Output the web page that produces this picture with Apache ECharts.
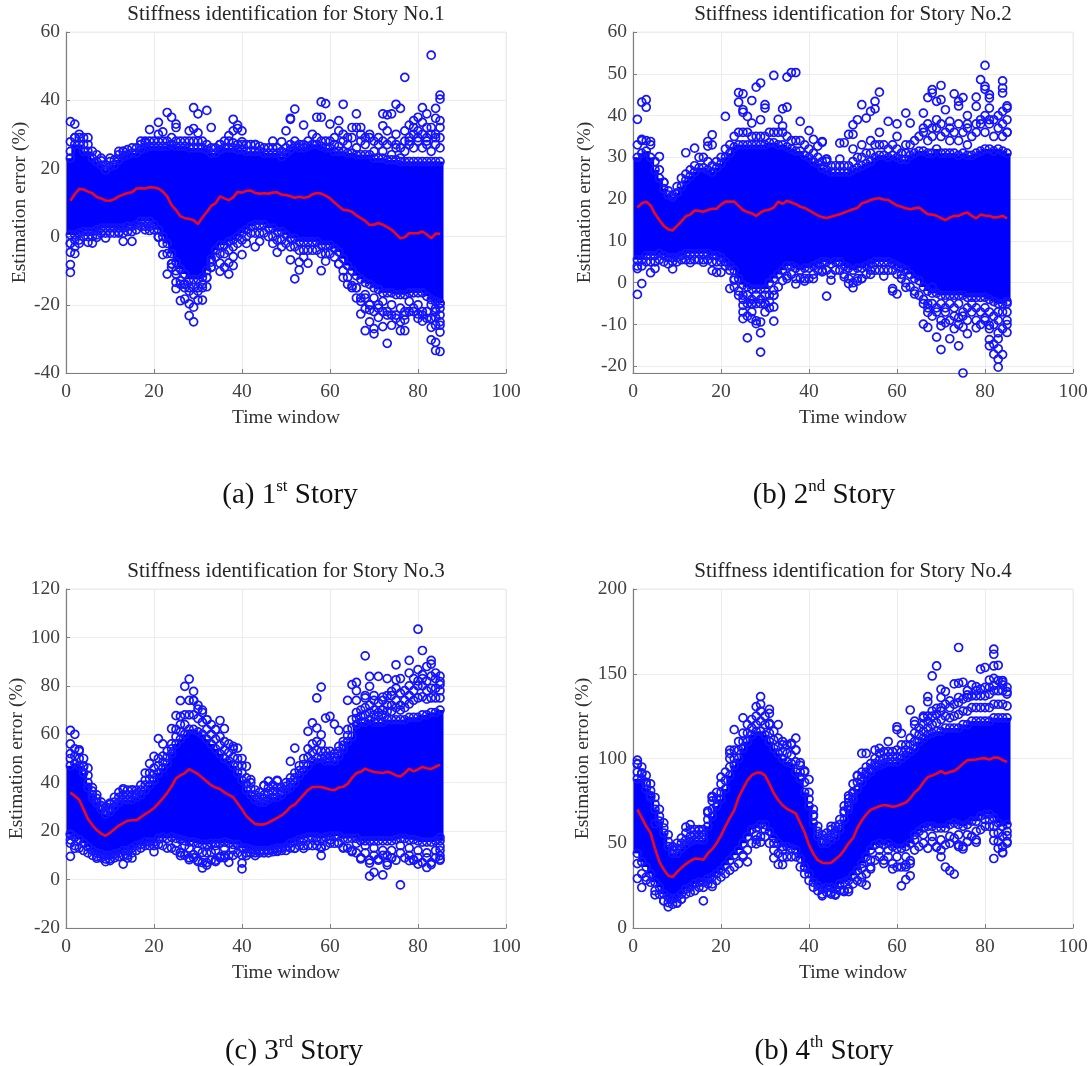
<!DOCTYPE html>
<html><head><meta charset="utf-8">
<script src="https://cdn.jsdelivr.net/npm/echarts@6/dist/echarts.min.js"></script>
<style>html,body{margin:0;padding:0;background:#fff}#c{width:1091px;height:1066px}</style>
</head><body><div id="c"></div>
<script>
const titles=['Stiffness identification for Story No.1','Stiffness identification for Story No.2','Stiffness identification for Story No.3','Stiffness identification for Story No.4'];
const captions=[['(a) 1','st'],['(b) 2','nd'],['(c) 3','rd'],['(b) 4','th']];
const yTicks2=[-20,-10,0,10,20,30,40,50,60];

const p1Mean=[10.5,12.5,14,13.8,13.2,12.7,11.6,11.2,10.6,10.5,11,11.8,12.3,12.8,13,14.1,14.2,14.1,14.5,14.4,14.1,13.2,11.8,9.2,7.8,6,5.4,5.2,4.8,3.7,5.6,7.2,9,9.8,11.8,11.2,10.7,11.5,13.1,12.9,13.4,13.5,12.8,12.6,12.7,12.6,12.9,13,12.3,12.2,11.8,11.4,11.7,11.4,11.6,12.4,12.8,12.6,12,11.2,10,8.9,7.9,7.7,7.3,6.2,5.4,4.6,3.4,3.5,4,3.5,2.8,2,0.8,-0.5,-0.2,1,1,1,1.5,0.6,-0.5,0.9,0.8];
const p1Hi=[25,29,29,27,27,25,24,23,21,22,22.5,24,25,25.5,26,26,27,27.5,28,28,28,28,28,29,28,28,28,28,28,28,28,27,26,26,27,28,28,27.5,27,27,27,27,27,26.5,26,26,26,26,25,26,27,28,27,27,28,30,29,28,28,28,27,26.5,28,27,29,26,28,27,29,25,27,25,27,24,26,23,25,27,26,28,26,27,25,27,26];
const p1MidHi=[23,27,27,25,25,23,22,21,19.5,20.5,21,22.5,23.5,24,24.5,24.5,25.5,26,26.5,26.5,26.5,26.5,26.5,27,26.5,26.5,26.5,26,26,26,26,25.5,24.5,24.5,25.5,26,26,26,25.5,25.5,25,25,25,25,24.5,24.5,24.5,24.5,23.5,24.5,25.5,26.5,26,26,26.5,27,27,26.5,26,26,25,25,25,24.5,24.5,24,24,24,24,23,23,23,22.5,22.5,22.5,22,22,22,22,22,22,22,22,22,22];
const p1MidLo=[0.5,0.5,1,1.5,1.5,1.5,2,2.5,2.5,2.5,2.5,2.5,2.5,3,3,3.5,4.5,4.5,4.5,3.5,2,0,-2,-5,-7.5,-9.5,-11,-12.5,-12.5,-12.5,-12,-10,-6.5,-4,-2.5,-2.5,-1.5,-1,0,1,2,3,3.5,3.5,3.5,2.5,2.5,1.5,1.5,0.5,-0.5,-0.5,-1.5,-1.5,-1.5,-1.5,-1.5,-2.5,-2.5,-2.5,-3.5,-4.5,-6.5,-8.5,-10,-11.5,-12.5,-13.5,-14,-15,-15.5,-16.5,-16.5,-16.5,-17,-17,-17,-16.5,-16.5,-16.5,-16.5,-17.5,-18.5,-19,-19.5];
const p1Lo=[-2,-1,-1,0,0,0,0.5,1,1,1,1,1,1,1.5,1.5,2,3,3,3,2,0,-2,-5,-8,-11,-13,-14,-15,-15,-15,-14,-12,-9,-6,-5,-5,-4,-3,-2,-1,0,1,1,1,1,0,0,-1,-1,-2,-3,-3,-4,-4,-4,-4,-4,-5,-5,-5,-6,-8,-10,-12,-15,-15,-18,-17,-20,-18,-21,-19,-22,-20,-23,-21,-23,-19,-22,-20,-23,-22,-24,-22,-25];
const p1Out=[[1,33.7],[2,33],[1,27.8],[2,29],[3,30],[4,29],[5,29],[8,22.2],[10,23],[12,25],[13,25],[17,28],[18,28],[19,31.4],[21,33.5],[22,30.7],[21,30],[23,36.4],[24,35],[25,33],[25,32],[28,31],[29,37.8],[29,31.7],[30,36],[30,30.4],[32,37],[33,32],[35,27],[37,29.6],[38,34.4],[38,31],[39,32.7],[39,31.7],[40,31],[40,27.8],[43,27],[47,28],[49,27.8],[50,31],[51,34.4],[52,37.4],[51,34.7],[54,32.7],[57,35],[58,35],[58,39.5],[59,39],[60,33],[62,34],[62,31],[63,38.8],[65,32],[66,36],[66,32],[67,32],[72,36],[72,32.5],[73,35.7],[74,36],[75,38.8],[76,37.6],[77,46.7],[75,27],[78,32.7],[79,34],[80,35],[81,37.8],[82,36],[81,33.5],[83,53.2],[84,37.6],[84,34.7],[83,32],[85,41.5],[85,40.3],[84,30],[85,29],[77,28],[78,29],[79,30],[81,30],[82,28],
[1,-10.5],[1,-8.2],[1,-4.6],[2,-5],[1,-2],[2,-3],[3,-2],[5,-1.7],[6,-1.9],[7,-0.2],[9,-0.4],[13,-1.4],[15,-1.4],[12,1.3],[18,2],[19,1.8],[21,-0.2],[22,-5.3],[23,-11],[24,-8],[25,-13.4],[25,-15.3],[26,-18.8],[27,-18.3],[27,-13.9],[28,-23.2],[28,-19.7],[29,-20.7],[29,-25],[30,-18.6],[31,-18.6],[32,-14.7],[33,-7.5],[35,-10.2],[35,-7.8],[36,-9],[37,-11],[37,-7.7],[38,-8.5],[38,-5.9],[40,-5.3],[41,-2],[43,-3],[44,-1.4],[47,-2],[48,-4.6],[49,-3],[51,-6.8],[52,-12.4],[53,-9.8],[53,-7.5],[54,-6],[55,-7.8],[58,-10],[59,-7.2],[62,-8],[63,-12],[65,-14.4],[66,-18],[67,-22.7],[68,-27.6],[68,-21.2],[69,-25],[69,-21.5],[70,-28.5],[70,-27],[71,-23.7],[72,-26.4],[73,-31.3],[74,-26],[76,-27.6],[77,-27.6],[77,-24.4],[80,-22.7],[81,-24.8],[83,-30.3],[83,-26.6],[84,-33.4],[84,-31],[84,-23.7],[85,-33.7],[85,-28],[85,-26],[85,-19.7],
[64,-14],[66,-15],[67,-19],[68,-18],[69,-20],[70,-22],[71,-20],[72,-22],[73,-23],[74,-23],[75,-24],[76,-25],[77,-22],[78,-22],[79,-21],[80,-24],[81,-22],[82,-24],[83,-24],[84,-26],[85,-23],[85,-21],[84,-21],[83,-20],[26,-14],[27,-15],[28,-16],[29,-17],[30,-16],[31,-15],[32,-12],[25,-10],[24,-9],[33,-9],[61,29],[64,29],[68,29],[70,28],[72,28],[74,28],[76,26],[78,28],[80,29],[82,29],[84,29],[63,30],[67,30],[69,30],[71,29],[73,31],[75,30],[77,31],[79,32],[80,31],[82,32],[83,30],[85,32],[85,34]];

const p2Mean=[18,19,19.4,18.5,16.5,15,13.6,12.8,12.5,13.6,14.7,15.9,16.3,17.3,17.2,17,17.4,17.7,17.7,18.7,19.4,19.4,19.4,18.4,17.4,16.9,16.6,16,16.8,17.3,17.5,18,19.4,18.9,19.6,19.2,18.8,18.2,17.9,17.3,16.7,16.1,15.7,15.5,15.8,16.1,16.4,16.8,17.2,17.6,17.9,19,19.3,19.8,20.1,20.2,19.9,19.8,19.1,18.5,18.2,17.8,17.6,17.8,18,17.2,16.4,16.3,16,15.5,15,15.6,16,16,16.5,16.8,16,15.4,16.3,16.1,16,15.6,15.7,16,15.4];
const p2Hi=[33,34,34,33,29,27,24,22,21,23,25,26,27,28,30,30,29,28,29,30,32,33,35,36,36,36,35,35,35,35,36,36,36,36,35,34,34,34,33,32,31,30,29,29,28,28,28,28,28,29,30,30,31,31,33,33,33,32,33,32,31,31,33,34,35,36,34,35,37,35,36,34,36,34,36,33,35,36,38,36,38,35,37,35,36];
const p2MidHi=[30,31,31.5,30,27,25,22.5,21,20.5,21.5,23,24.5,25.5,26.5,27.5,27.5,27,26.5,27.5,28.5,30,31,32.5,33,33,33,33,33,33,33,33.5,33.5,33,33,32.5,32,31.5,31.5,30.5,30,29,28.5,27.5,27,26.5,26.5,26.5,26.5,26.5,27,27.5,28,28.5,29,30,30.5,30.5,30,30.5,30,29.5,29.5,30.5,31,31.5,31.5,31,31,32,31,31,31,31,30.5,31,30.5,30.5,31,31.5,32,32,31.5,32,31.5,31];
const p2MidLo=[5.5,5.5,6.5,6.5,6.5,7,6.5,6,6,6,6.5,7,7,7,7,7,7,6.5,6.5,6,5,4,3,1,-0.5,-1,-1.5,-1.5,-1.5,-1.5,0,1,2,3,4,4,3.5,3,3.5,3.5,4,4.5,5,5,4.5,5,5,4,3.5,3,3.5,3.5,4,4.5,5,5,5,5,4.5,4,3.5,3,2,1,0.5,-1,-2,-2.5,-2.5,-3,-3,-3,-3,-3,-3,-3.5,-3.5,-3.5,-3.5,-3.5,-4,-4.5,-5,-5,-4.5];
const p2Lo=[4,4,5,5,5,5.5,5,4.5,5,5,5.5,5.5,5.5,5.5,5.5,5.5,5.5,5,5,5,4,3,1,-2,-4,-5,-5,-5,-5,-5,-4.5,-3,-1,0.5,1,2,1,1,1,1,2,3,3,3,2,3,3,2,1,0,1,1,2,3,3,3,3,3,3,2,1,0,-1,-2,-3,-5,-6,-8,-7,-9,-7,-9,-8,-10,-8,-9,-7,-9,-10,-9,-11,-10,-12,-11,-10];
const p2Out=[[1,39.1],[2,43.2],[3,43.8],[3,42],[4,33.8],[2,34.3],[6,30.2],[7,24],[12,31.1],[14,32.2],[17,33.8],[17,32.7],[18,35.4],[18,33],[21,39.8],[24,45.5],[24,43.2],[25,45.2],[25,41.4],[25,40.8],[26,39.8],[27,43.6],[27,38.2],[28,46.8],[29,47.8],[29,39],[30,42.6],[30,41.8],[32,49.6],[33,39.1],[34,41.6],[35,49.2],[35,42],[34,37.5],[36,50.3],[37,50.3],[38,38.6],[40,36.4],[41,34.3],[42,32.7],[43,33.8],[44,29.5],[47,33.4],[43,33.6],[44,29.6],[47,29.6],[48,33.5],[49,35.5],[50,35.5],[50,37.8],[51,39],[52,42.6],[53,39.4],[54,41],[55,43.4],[55,41.6],[56,45.6],[58,38.6],[60,38],[62,40.6],[63,38.2],[66,40.6],[67,44.3],[68,46.2],[68,45.4],[69,43.4],[70,47.2],[70,43.8],[71,41.4],[73,45.2],[74,43.4],[75,44.3],[74,42.3],[76,40],[78,44.4],[79,48.6],[80,52],[80,47],[80,46.3],[81,45],[81,44.2],[84,48.3],[84,46.6],[84,45.4],[85,42.3],[85,41.8],[84,41],[85,36],[78,42.2],[81,41.8],[72,38.6],[76,38],
[1,-2.8],[2,-0.2],[1,3.4],[4,2.4],[5,3.4],[9,3.3],[13,4.8],[16,4.9],[18,2.9],[19,2.5],[20,2.5],[22,-1.4],[23,0.6],[25,-5.4],[25,-8.6],[26,-13.2],[26,-8],[27,-5.1],[27,-8.6],[28,-9.8],[28,-9.1],[29,-16.6],[29,-12],[29,-9.4],[30,-5.1],[32,-9.2],[32,-5.8],[32,-1.8],[35,1.6],[37,-0.3],[39,0.4],[41,1],[43,2.6],[44,-3.2],[45,0.6],[48,1.4],[49,-0.2],[50,-1.2],[51,0.4],[52,1],[54,2],[57,1.6],[59,-1.4],[59,-2],[60,-2.7],[61,2],[62,-1.1],[64,-2.7],[66,-9.9],[67,-10.7],[67,-7.1],[68,-1.1],[69,-13],[70,-16],[70,-10.3],[71,-9.6],[72,-13.4],[73,-11],[74,-15.1],[74,-8.4],[75,-21.6],[75,-10.6],[76,-12.2],[78,-10.8],[80,-8.4],[81,-13.6],[81,-15.1],[82,-17.1],[82,-14.7],[83,-20.2],[83,-18.3],[83,-15.8],[84,-17.2],[83,-13.4],[85,-11.9],[85,-9],[81,-10.2],
[66,-4],[67,-5],[68,-5],[69,-6],[70,-5],[71,-6],[72,-5],[73,-6],[74,-5],[75,-7],[76,-6],[77,-5],[78,-6],[79,-7],[80,-6],[81,-7],[82,-8],[83,-9],[84,-7],[85,-7],[83,-7],[85,-5],[24,-3],[25,-3],[26,-3],[27,-4],[28,-3],[29,-4],[30,-3],[31,-3],[32,-3],[23,-1],[31,-6],[30,-7],[27,-7],[25,-7],[62,33],[66,37],[68,37],[70,38],[72,37],[74,38],[76,37],[78,38],[79,39],[80,40],[81,39],[82,39],[83,40],[84,38],[85,39],[67,38],[69,39],[60,35],[56,36],[54,34],[52,33],[50,32]];

const p3Mean=[36,34.5,33,29,25,22.5,20.4,19,18.1,19.3,20.8,22.3,23.3,24.3,24.5,24.5,25.8,27,28.2,29.5,31.5,33.5,35.8,38.5,41.8,43,44,45.6,44.6,43.6,42,40.5,39,38,37.4,36,35,34,31.5,29,26.2,24.5,23,22.7,22.8,23.5,24.5,25.5,26.5,28,30,31,33,35,37,38.2,38.2,38.2,37.7,37.2,36.9,38,38.3,39.5,42,44,44.5,45.8,45,44.4,44.2,44,44.5,44,43,42.6,44,45.8,44.7,45.5,46.5,46,45.7,46.6,47.5];
const p3Hi=[52,54,53,50,46,38,35,32,30,31,34,36,37,37,37,37,39,41,44,46,50,51,53,56,62,64,68,74,74,72,70,66,64,62,59,57,56,54,50,47,42,40,37,36,35,38,39,38,38,40,42,44,47,50,54,56,57,56,53,53,52,55,57,62,66,69,70,71,72,70,69,70,72,72,74,72,74,76,78,80,80,78,79,79,78];
const p3MidHi=[50,51,50,47,43,36.5,33.5,30.5,28.5,29.5,32,34,35,35,35,35.5,37,39,41.5,43.5,47,48.5,50.5,54,59,61,64,68,68,66.5,65,62,60,58,55.5,53.5,52.5,50.5,47,44,39.5,37.5,35,34,33.5,35.5,36.5,36,36.5,38.5,40,42,45,47.5,50.5,52.5,53.5,53,51,51,50.5,53,55.5,59.5,62.5,66.5,67.5,68,69,68,67.5,68,69.5,69.5,71,70,71,72.5,74,75,75.5,74.5,75,75,75];
const p3CoreHi=[47,48,47,44,40,35,32,29,27,28,30,32,33,33,33,34,35,37,39,41,44,46,48,52,56,58,60,62,62,61,60,58,56,54,52,50,49,47,44,41,37,35,33,32,32,33,34,34,35,37,38,40,43,45,47,49,50,50,49,49,49,51,54,57,59,64,65,65,66,65,65,65,66,66,66,66,66,67,67,67,68,68,69,69,70];
const p3MidLo=[18.5,17.5,16.5,15,13.5,12,11,10.5,10,10,10.5,11,12,12,13,14,14.5,15.5,15.5,15.5,17,17.5,17,17.5,17,16.5,16,15.5,15.5,15,14.5,14.5,15,15,15,15.5,15,14.5,14.5,13,13,12.5,12,12,12,12,12.5,13,13,13.5,15,15.5,16.5,17,17.5,17.5,17.5,17,17.5,18,18,18,17,17,17,17,16,16,16,16,16,16,16,16,16.5,17,17,16.5,16.5,16,15.5,15.5,15.5,16,16];
const p3Lo=[15,14,13,12,11,10,9.5,9,8.5,8.5,9,9.5,10,10,11,12,13,14,14,14,14.5,14,13,13,12,11,10,9,9,8,7,7,8,8,9,10,10,10,11,10,11,11,11,11,11,11,11.5,12,12,12,13,13,14,14,14,14,14,13,14,15,15,15,13,13,12,11,9,11,8,10,8,10,7,9,8,11,9,10,8,9,7,9,7,9,8];
const p3Out=[[1,61.6],[2,60],[1,56],[3,53.6],[4,46.5],[5,38],[6,33.7],[7,31.6],[10,31.6],[13,37.5],[15,37],[18,44],[19,47.9],[20,50.9],[21,58.2],[22,56],[24,62.3],[25,67.7],[26,67.4],[26,73.9],[27,79.8],[28,82.8],[29,77.7],[29,73.9],[30,70.4],[31,69],[32,66],[34,61.9],[35,65.7],[36,62.3],[38,55],[39,54.3],[40,50],[41,46.8],[42,41.3],[45,38.8],[46,40.6],[48,40.6],[45,38.9],[46,40.6],[48,41],[51,48.8],[52,54.3],[55,61.2],[56,64.7],[57,75],[58,79.5],[57,62.6],[58,59.8],[59,66.7],[60,67.4],[61,64.2],[62,61.6],[64,74],[65,80.5],[66,81.4],[66,78],[68,92.4],[68,76],[69,83.9],[69,79.8],[71,83.9],[70,74],[73,83],[75,88.7],[75,82.5],[76,83],[74,77.7],[78,90.5],[78,85.3],[80,103.4],[81,94.6],[80,86.7],[82,88],[83,90.5],[83,89],[84,85.3],[85,81.8],[85,80.5],[81,84.6],[72,75.4],
[1,9.6],[1,16.4],[1,18.8],[2,12.9],[7,8.8],[9,7.4],[10,7.8],[13,6.4],[14,8.9],[15,8.9],[20,11.5],[26,11.2],[26,9.9],[28,8.2],[29,10.3],[30,7.4],[31,4.8],[32,6],[31,11.2],[33,11.2],[34,7.4],[34,14],[35,9.5],[36,9],[37,7.1],[38,12.3],[40,4.4],[40,6.8],[41,9.9],[43,9.9],[48,11.6],[52,12.9],[54,12.9],[57,16],[58,9.9],[58,13.6],[60,16.3],[63,13.3],[65,11.5],[67,8.5],[69,6.8],[69,1.4],[70,3],[71,8.5],[72,1.9],[73,6],[74,8.9],[76,-2.2],[78,7.8],[79,8.2],[80,6.4],[82,5],[83,6.2],[85,8.5],[85,9.9],[85,13.7],[85,17.4],
[66,74],[68,75],[70,76],[72,74],[74,76],[76,77],[78,80],[80,82],[82,82],[84,83],[85,84],[83,84],[81,83],[79,83],[77,78],[75,79],[73,76],[71,73],[66,15],[68,14],[70,13],[72,12],[74,12],[76,14],[78,13],[80,12],[82,11],[84,12],[85,12],[73,10],[28,13],[30,12],[32,11],[34,12],[36,13],[25,15],[27,14]];

const p4Mean=[70,65,60,56,47,39,34.5,31,30,33,35.5,37.7,39.5,41,40.8,40.3,44,46.5,50,54.5,60,65,69.4,77,82.2,87,90.2,91.5,91.7,90,85,79.5,75.5,72.4,70.3,69,67.6,62,56.5,49,43.7,40,38.5,38.3,38.5,40.5,42.7,46,50,53,59,63.5,67,69.7,70.8,71.8,72.6,72.2,71.5,72,73,74,76.5,80,82.2,86,89,90,91.1,92.5,91.1,92,92.7,94.5,97,99,99.2,99.4,100,100.2,99.4,100.5,100.5,99,98];
const p4Hi=[97,95,90,85,77,70,62,55,48,50,53,56,58,58,58,58,68,75,80,85,92,100,105,110,115,120,123,125,128,125,120,116,112,108,108,108,105,96,92,80,70,60,55,56,58,60,64,72,78,85,90,92,95,97,100,103,104,104,104,105,108,108,112,115,118,120,122,125,126,130,132,130,132,133,135,136,137,137,137,137,138,140,140,140,138];
const p4MidHi=[92,91,86,81,73,66,59,51,46,47,50,52,54,55,55,55,64,70,76,80,87,95,100,105,110,115,118,120,122,120,115,111,107,104,103,102,98,92,86,76,66,57,52,53,55,57,61,68,74,80,86,89,92,94,97,99,100,101,101,101,104,105,108,110,114,116,118,120,121,123,125,124,125,126,128,128,130,130,130,130,130,132,132,132,131];
const p4CoreHi=[88,88,82,78,70,63,56,48,44,44,47,49,51,52,52,52,60,66,72,76,82,90,96,100,106,110,114,116,116,114,110,106,103,100,98,97,92,88,80,72,62,54,50,50,52,54,58,64,70,76,82,86,90,92,95,96,97,98,98,98,100,102,104,106,110,112,114,115,116,116,118,118,118,118,120,120,122,122,122,122,122,124,124,124,124];
const p4MidLo=[44,39,36,32,27,24,20,18,17,18,20,23,24,26,27,27,29,30,32,34,37,40,43,46,50,54,58,59,61,61,57,53,50,48,48,47,46,41,36,32,27,25,23,24,24,23,26,27,28,31,34,38,42,46,49,50,49,50,48,47,47,48,50,55,57,59,60,60,59,59,59,61,62,61,60,61,63,63,66,67,67,65,62,60,61];
const p4Lo=[38,32,30,27,22,20,16,15,14,15,17,20,21,22,24,24,26,26,28,30,32,34,36,38,42,46,50,52,54,54,50,46,44,42,42,42,42,36,32,28,24,22,20,21,21,20,22,22,23,26,28,30,32,36,40,42,40,42,38,36,36,36,38,46,48,50,47,51,48,46,49,50,53,49,48,51,54,52,58,60,60,56,51,48,50];
const p4Out=[[1,99],[1,96.6],[2,91.5],[3,84.8],[4,77],[18,77],[20,89],[22,105],[22,103],[23,117],[25,124],[28,130.6],[29,136.5],[29,132],[31,129],[31,126.6],[31,120.7],[33,120],[34,110],[36,109],[37,112],[37,105],[38,97.6],[39,92.7],[40,87.6],[4,77.7],[5,61.5],[12,59.5],[13,61],[15,57.5],[17,69],[18,77.7],[41,66.8],[45,60],[48,69],[49,72],[50,80],[50,77],[49,76.3],[50,79.3],[51,89.7],[52,103],[53,103],[55,105],[56,106],[58,110],[60,118.7],[60,117],[61,114.8],[63,128.6],[64,122],[66,125],[67,125],[67,136.5],[67,133.5],[68,148.7],[69,154.6],[69,129.6],[70,136],[70,140.8],[71,139.5],[73,144],[74,144.4],[74,165.5],[75,145],[76,137.5],[77,143.4],[78,142.4],[79,152.7],[80,153.7],[81,146.3],[82,164.5],[82,161.5],[82,154.6],[82,147.3],[83,155],[84,146],[84,143.4],[85,139.4],
[1,29.2],[2,23.9],[3,28.3],[5,19.6],[7,16],[8,12.5],[10,14.6],[11,17],[16,16],[18,24.5],[26,39],[25,43],[32,41.3],[33,37.5],[34,37.4],[29,50.6],[28,49.6],[39,35.8],[43,19],[45,20],[46,19.4],[48,21.5],[49,21.5],[52,26.9],[53,25.3],[54,34.8],[57,38],[59,34.8],[61,24.9],[62,28.5],[63,30.8],[63,39.7],[62,37.4],[69,47.6],[70,42],[71,36],[72,33.8],[73,31.8],[74,48],[75,46.6],[76,51],[78,50.6],[82,41],[82,51.6],[84,44.3],[84,44.7],[83,47],[85,51],[85,54.5],
[64,120],[66,124],[68,128],[70,128],[72,134],[74,136],[76,140],[78,140],[80,142],[82,143],[84,145],[85,142],[83,146],[81,142],[79,141],[64,52],[66,55],[68,54],[70,52],[72,54],[74,55],[76,55],[78,57],[80,64],[82,60],[84,54],[85,57],[83,56],[81,64],[52,35],[54,40],[56,46],[58,46],[60,42],[62,42],[28,55],[30,58],[32,50],[34,46]];

const SERIF='"Liberation Serif","Times New Roman",serif';
const panels=[
 {left:66,top:32,h:341,min:-40,max:60,interval:20,mean:p1Mean,band:[p1MidLo,p1MidHi],rows:[p1Hi,p1MidHi,p1MidLo,p1Lo],out:p1Out,yGap:36},
 {left:633,top:32,h:341,min:-21.6,max:60,custom:yTicks2,mean:p2Mean,band:[p2MidLo,p2MidHi],rows:[p2Hi,p2MidHi,p2MidLo,p2Lo],out:p2Out,yGap:38},
 {left:66,top:589,h:339,min:-20,max:120,interval:20,mean:p3Mean,band:[p3MidLo,p3CoreHi],rows:[p3Hi,p3MidHi,p3CoreHi,p3MidLo,p3Lo],out:p3Out,yGap:39},
 {left:633,top:589,h:339,min:0,max:200,interval:50,mean:p4Mean,band:[p4MidLo,p4CoreHi],rows:[p4Hi,p4MidHi,p4CoreHi,p4MidLo,p4Lo],out:p4Out,yGap:40}
];
const capPos=[[285,473],[819,473],[289,1029],[819,1029]];
const axisStyle={lineStyle:{color:'#7f7f7f',width:1.2}};
const grid=[],xAxis=[],yAxis=[],series=[],title=[];
const labelStyle={fontFamily:SERIF,fontSize:19.5,color:'#404040'};
const nameStyle={fontFamily:SERIF,fontSize:19.5,color:'#303030'};
panels.forEach((p,i)=>{
  grid.push({left:p.left,top:p.top,width:440,height:p.h,show:true,borderColor:'#ececec',borderWidth:1,backgroundColor:'#fff',outerBoundsMode:'none'});
  xAxis.push({type:'value',gridIndex:i,min:0,max:100,interval:20,name:'Time window',nameLocation:'center',nameGap:35,nameTextStyle:nameStyle,
    axisLine:{show:true,onZero:false,...axisStyle},axisTick:{show:true,inside:true,length:4,lineStyle:{color:'#7f7f7f'}},
    axisLabel:{...labelStyle,margin:9,showMinLabel:true,showMaxLabel:true},splitLine:{show:true,lineStyle:{color:'#ececec',width:1}}});
  const y={type:'value',gridIndex:i,min:p.min,max:p.max,name:'Estimation error (%)',nameLocation:'center',nameGap:p.yGap,nameRotate:90,nameTextStyle:nameStyle,
    axisLine:{show:true,onZero:false,...axisStyle},axisTick:{show:true,inside:true,length:4,lineStyle:{color:'#7f7f7f'}},
    axisLabel:{...labelStyle,margin:6},splitLine:{show:true,lineStyle:{color:'#ececec',width:1}}};
  if(p.custom){y.axisTick.customValues=p.custom;y.axisLabel.customValues=p.custom;}else{y.interval=p.interval;}
  yAxis.push(y);
  title.push({text:titles[i],left:p.left+215,top:p.top-33,textAlign:'center',textStyle:{fontFamily:SERIF,fontSize:21,fontWeight:'normal',color:'#262626'}});
  title.push({text:'{a|'+captions[i][0]+'}{s|'+captions[i][1]+'}{a| Story}',left:capPos[i][0],top:capPos[i][1],textAlign:'center',
    textStyle:{fontWeight:'normal',rich:{a:{fontFamily:SERIF,fontSize:29,fontWeight:'normal',color:'#111',verticalAlign:'bottom',lineHeight:32},s:{fontFamily:SERIF,fontSize:17,fontWeight:'normal',color:'#111',verticalAlign:'top',lineHeight:32}}}});
  const bandData=p.mean.map((_,k)=>[k+1,p.band[0][k],p.band[1][k]]);
  series.push({type:'custom',xAxisIndex:i,yAxisIndex:i,silent:true,z:2,clip:false,data:bandData,encode:{x:0,y:[1,2]},
    renderItem:(params,api)=>{
      const a=api.coord([api.value(0)-0.8,api.value(2)]),b=api.coord([api.value(0)+0.8,api.value(1)]);
      return {type:'rect',shape:{x:a[0],y:a[1],width:b[0]-a[0],height:b[1]-a[1]},style:{fill:'#0000ff'}};
    }});
  const pts=[];
  p.rows.forEach(r=>r.forEach((v,k)=>pts.push([k+1,v])));
  p.out.forEach(d=>pts.push(d));
  series.push({type:'scatter',xAxisIndex:i,yAxisIndex:i,silent:true,z:3,clip:false,symbol:'circle',symbolSize:8,large:false,progressive:0,animation:false,data:pts,
    itemStyle:{color:'rgba(0,0,255,0)',borderColor:'#1414ff',borderWidth:1.7,opacity:1}});
  series.push({type:'line',xAxisIndex:i,yAxisIndex:i,silent:true,z:5,symbol:'none',smooth:false,data:p.mean.map((v,k)=>[k+1,v]),lineStyle:{color:'#ec0a1e',width:2.6}});
});
const chart=echarts.init(document.getElementById('c'),null,{renderer:'canvas'});
chart.setOption({animation:false,backgroundColor:'#fff',title,grid,xAxis,yAxis,series,tooltip:{show:false}});
</script></body></html>
